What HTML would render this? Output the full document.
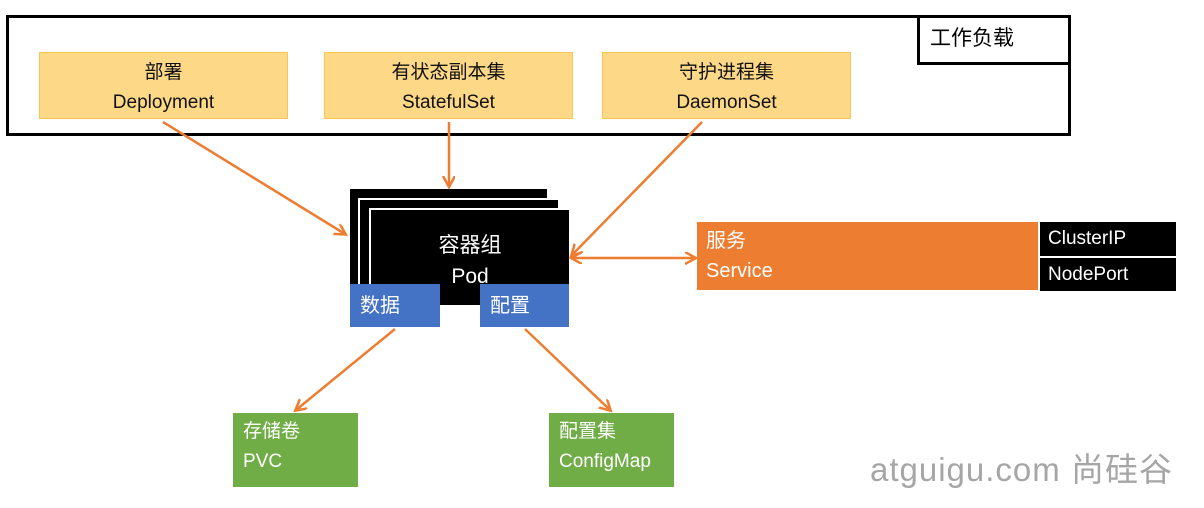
<!DOCTYPE html>
<html><head><meta charset="utf-8"><style>
*{margin:0;padding:0;box-sizing:border-box}
body{width:1204px;height:508px;background:#fff;position:relative;overflow:hidden;font-family:"Liberation Sans","Noto Sans CJK SC",sans-serif}
.a{position:absolute}
.y{background:#fdd887;border:1px solid #f7c654;text-align:center;color:#111;font-size:19px;line-height:30px;padding-top:5px}
.g{background:#70ad47;color:#fff;font-size:19px;line-height:30px;padding:4px 0 0 10px}
.b{background:#4472c4;color:#fff;font-size:20px;padding:5px 0 0 10px}
.k{background:#000;color:#fff;font-size:19px;padding:6px 0 0 8px}
</style></head><body>
<div class="a" style="left:6px;top:15px;width:1065px;height:121px;border:3px solid #000"></div>
<div class="a" style="left:917px;top:15px;width:154px;height:50px;border:3px solid #000;font-size:21px;padding:4px 0 0 10px">工作负载</div>
<div class="a y" style="left:39px;top:52px;width:249px;height:67px">部署<br>Deployment</div>
<div class="a y" style="left:324px;top:52px;width:249px;height:67px">有状态副本集<br>StatefulSet</div>
<div class="a y" style="left:602px;top:52px;width:249px;height:67px">守护进程集<br>DaemonSet</div>
<div class="a" style="left:350px;top:189px;width:197px;height:95px;background:#000"></div>
<div class="a" style="left:358px;top:198px;width:200px;height:90px;background:#000;border-left:2px solid #fff;border-top:2px solid #fff"></div>
<div class="a" style="left:369px;top:208px;width:200px;height:97px;background:#000;border-left:2px solid #fff;border-top:2px solid #fff;color:#fff;text-align:center;font-size:21px;line-height:31px;padding-top:20px">容器组<br>Pod</div>
<div class="a b" style="left:350px;top:284px;width:90px;height:43px">数据</div>
<div class="a b" style="left:480px;top:284px;width:89px;height:43px">配置</div>
<div class="a" style="left:697px;top:222px;width:341px;height:68px;background:#ed7d31;color:#fff;font-size:20px;line-height:30px;padding:4px 0 0 9px">服务<br>Service</div>
<div class="a k" style="left:1040px;top:222px;width:136px;height:34px">ClusterIP</div>
<div class="a k" style="left:1040px;top:258px;width:136px;height:33px">NodePort</div>
<div class="a g" style="left:233px;top:413px;width:125px;height:74px">存储卷<br>PVC</div>
<div class="a g" style="left:549px;top:413px;width:125px;height:74px">配置集<br>ConfigMap</div>
<div class="a" style="left:870px;top:443px;font-size:33px;letter-spacing:1px;color:#a6a6a6;white-space:nowrap">atguigu.com 尚硅谷</div>
<svg class="a" style="left:0;top:0" width="1204" height="508">
<defs><marker id="m" markerWidth="14" markerHeight="14" refX="10" refY="6" orient="auto-start-reverse" markerUnits="userSpaceOnUse"><path d="M0,0 L11,6 L0,12" fill="none" stroke="#ed7d31" stroke-width="2.5"/></marker></defs>
<g stroke="#ed7d31" stroke-width="2.5" fill="none">
<line x1="163" y1="122" x2="345" y2="234" marker-end="url(#m)"/>
<line x1="449" y1="122" x2="449" y2="186" marker-end="url(#m)"/>
<line x1="702" y1="122" x2="572" y2="255" marker-end="url(#m)"/>
<line x1="572" y1="258" x2="695" y2="258" marker-start="url(#m)" marker-end="url(#m)"/>
<line x1="395" y1="329" x2="296" y2="410" marker-end="url(#m)"/>
<line x1="525" y1="329" x2="610" y2="410" marker-end="url(#m)"/>
</g></svg>
</body></html>
